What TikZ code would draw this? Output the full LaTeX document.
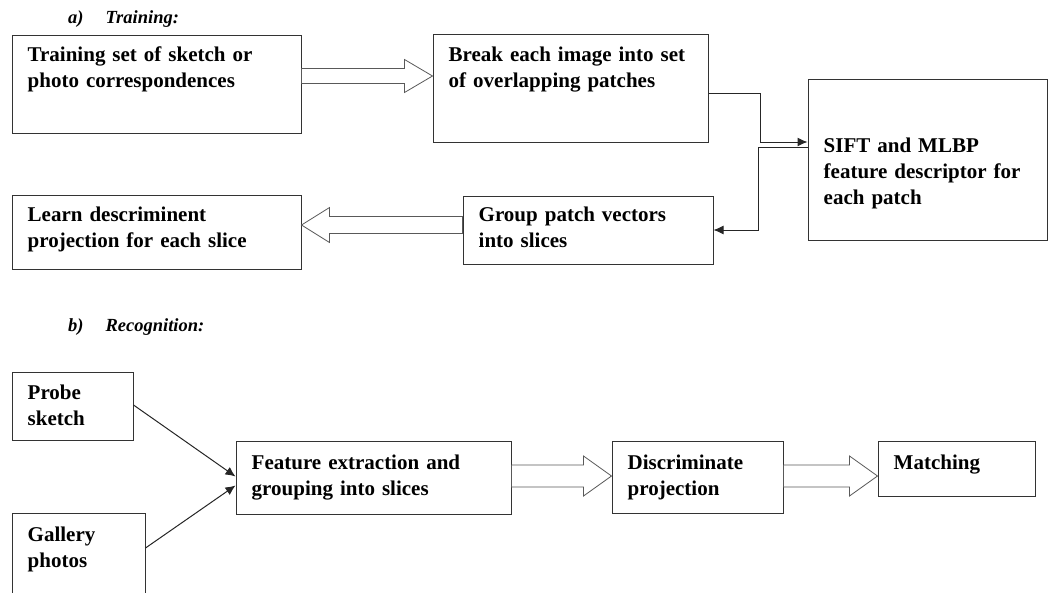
\documentclass[tikz,border=0pt]{standalone}
\usepackage{fontspec}
\setmainfont{Liberation Serif}[WordSpace=0.75]
\usetikzlibrary{arrows.meta,calc}

\tikzset{
    box/.style={draw=black!80, line width=1pt, rectangle, inner sep=0pt},
    txt/.style={anchor=base west, align=left, inner sep=0pt, text width=#1,
        font=\fontsize{21}{26}\selectfont\bfseries},
    txt/.default=270pt,
    head/.style={anchor=base west, inner sep=0pt,
        font=\fontsize{18.5}{20}\selectfont\bfseries\itshape},
    conn/.style={draw=black!85, line width=1pt, -{Latex[length=10pt,width=9pt]}},
    hollow/.style={draw=black!65, line width=0.8pt, fill=white, line join=miter},
}

% wide open arrow between two points on one horizontal line,
% #1 = half width of the shaft
\newcommand{\hollowarrow}[3][8]{%
    \draw[hollow] let \p1=#2, \p2=#3, \n1={ifthenelse(\x2>\x1,1,-1)} in
        (\x1,{\y1+#1pt}) -- ({\x2-\n1*28pt},{\y1+#1pt}) -- ({\x2-\n1*28pt},{\y1+(#1+9)*1pt})
        -- (\x2,\y1) -- ({\x2-\n1*28pt},{\y1-(#1+9)*1pt}) -- ({\x2-\n1*28pt},{\y1-#1pt})
        -- (\x1,{\y1-#1pt}) -- cycle;
}

\begin{document}
\begin{tikzpicture}[x=1pt, y=-1pt]
    \useasboundingbox (0,0) rectangle (1049,592);

    % a) training
    \node[head] (heada) at (68,23) {a)\hspace{22pt}Training:};

    \node[box, minimum width=289pt, minimum height=98pt] (train) at (156.5,84) {};
    \node[box, minimum width=275pt, minimum height=108pt] (break) at (570.5,88) {};
    \node[box, minimum width=239pt, minimum height=161pt] (sift) at (927.5,159.5) {};
    \node[box, minimum width=250pt, minimum height=68pt] (group) at (588,230) {};
    \node[box, minimum width=289pt, minimum height=74pt] (learn) at (156.5,232) {};

    \node[txt] (train-t) at ([shift={(16pt,-27pt)}]train.north west)
        {Training set of sketch or\\photo correspondences};
    \node[txt] (break-t) at ([shift={(16pt,-28pt)}]break.north west)
        {Break each image into set\\of overlapping patches};
    \node[txt=230pt] (sift-t) at ([shift={(16pt,-74pt)}]sift.north west)
        {SIFT and MLBP\\feature descriptor for\\each patch};
    \node[txt=240pt] (group-t) at ([shift={(16pt,-26pt)}]group.north west)
        {Group patch vectors\\into slices};
    \node[txt] (learn-t) at ([shift={(16pt,-27pt)}]learn.north west)
        {Learn descriminent\\projection for each slice};

    \hollowarrow[7.5]{(train.east |- 0,76)}{(break.west |- 0,76)}
    \draw[conn] (break.east |- 0,93) -- ++(52,0) |- (sift.west |- 0,142);
    \draw[conn] (sift.west |- 0,147) -- ++(-49,0) |- (group.east);
    \hollowarrow[8.5]{(group.west |- 0,225)}{(learn.east |- 0,225)}

    % b) recognition
    \node[head] (headb) at (68,331) {b)\hspace{22pt}Recognition:};

    \node[box, minimum width=121pt, minimum height=68pt] (probe) at (72.5,406) {};
    \node[box, minimum width=133pt, minimum height=90pt] (gallery) at (78.5,558) {};
    \node[box, minimum width=275pt, minimum height=73pt] (feat) at (373.5,477.5) {};
    \node[box, minimum width=171pt, minimum height=72pt] (disc) at (697.5,477) {};
    \node[box, minimum width=157pt, minimum height=55pt] (match) at (956.5,468.5) {};

    \node[txt=110pt] (probe-t) at ([shift={(16pt,-28pt)}]probe.north west)
        {Probe\\sketch};
    \node[txt=120pt] (gallery-t) at ([shift={(16pt,-29pt)}]gallery.north west)
        {Gallery\\photos};
    \node[txt] (feat-t) at ([shift={(16pt,-29pt)}]feat.north west)
        {Feature extraction and\\grouping into slices};
    \node[txt=160pt] (disc-t) at ([shift={(16pt,-29pt)}]disc.north west)
        {Discriminate\\projection};
    \node[txt=150pt] (match-t) at ([shift={(16pt,-29pt)}]match.north west)
        {Matching};

    \draw[conn] (probe.east |- 0,405) -- ([yshift=1pt]feat.west);
    \draw[conn] (gallery.east |- 0,548) -- ([yshift=-8pt]feat.west);
    \hollowarrow[11]{(feat.east |- 0,476)}{(disc.west |- 0,476)}
    \hollowarrow[11]{(disc.east |- 0,476)}{(match.west |- 0,476)}

\end{tikzpicture}
\end{document}
